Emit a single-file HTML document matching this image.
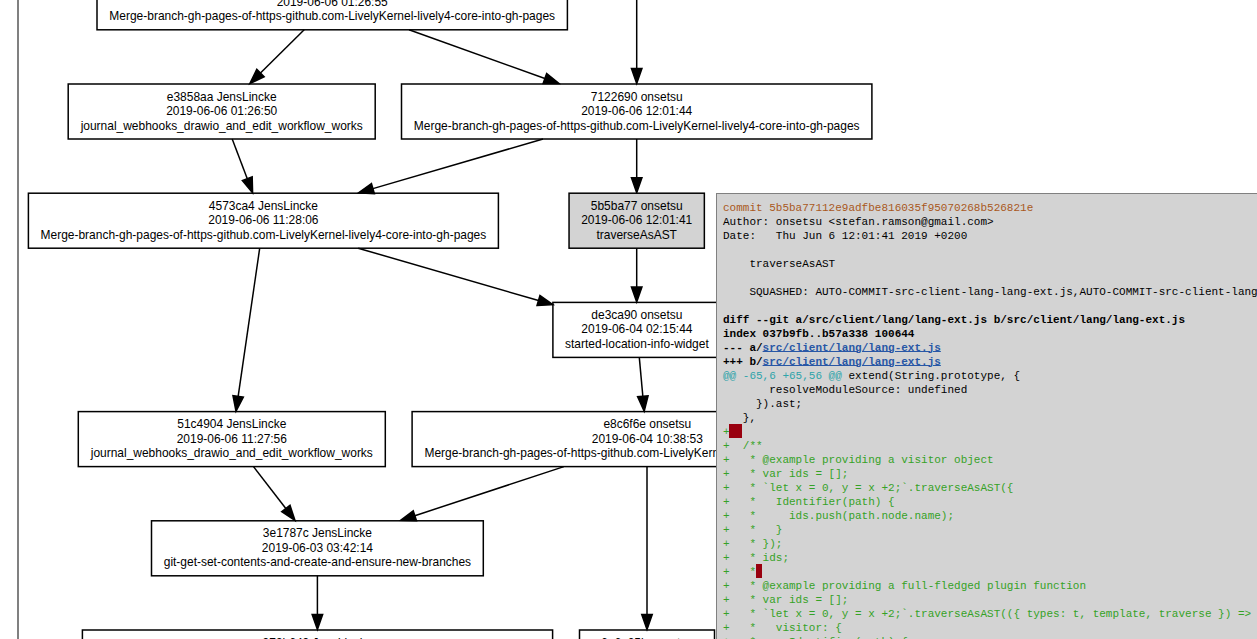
<!DOCTYPE html>
<html><head><meta charset="utf-8"><title>git graph</title>
<style>
html,body{margin:0;padding:0;background:#fff;}
body{width:1257px;height:639px;overflow:hidden;position:relative;font-family:"Liberation Sans",sans-serif;}
#edge{position:absolute;left:17px;top:0;width:2px;height:639px;background:#808080;}
svg text{font-family:"Liberation Sans",sans-serif;font-size:11.97px;fill:#000;}
#panel{position:absolute;left:716px;top:193px;width:600px;height:500px;box-sizing:border-box;border:1px solid #808080;background:#d3d3d3;padding:7px 6px 6px 6px;overflow:hidden;}
#panel pre{margin:0;font-family:"Liberation Mono",monospace;font-size:11px;line-height:14px;color:#000;white-space:pre;}
#panel b{font-weight:bold;}
.c{color:#a9581c;}
.l{color:#2857a6;text-decoration:underline;text-underline-offset:0px;text-decoration-thickness:1px;}
.h{color:#2ea4aa;}
.a{color:#35a226;}
.r{background:#99000f;display:inline-block;height:14px;vertical-align:top;position:relative;top:-1px;}
.r2{width:13px;margin-left:-0.6px;}
.r1{width:6.2px;margin-left:0px;}
</style></head><body>
<div id="edge"></div>
<svg width="1257" height="639" viewBox="0 0 1257 639" style="position:absolute;left:0;top:0">
<g fill="none" stroke="#000" stroke-width="1.5">
<path d="M304.20,29.80L260.47,73.05"/>
<polygon fill="#000" points="256.77,69.32 249.80,83.60 264.16,76.79"/>
<path d="M409.00,29.80L544.88,78.54"/>
<polygon fill="#000" points="543.11,83.48 559.00,83.60 546.65,73.59"/>
<path d="M636.70,-5.00L636.70,68.60"/>
<polygon fill="#000" points="631.45,68.60 636.70,83.60 641.95,68.60"/>
<path d="M232.20,139.00L247.28,178.77"/>
<polygon fill="#000" points="242.37,180.64 252.60,192.80 252.19,176.91"/>
<path d="M543.00,139.00L372.90,188.60"/>
<polygon fill="#000" points="371.43,183.56 358.50,192.80 374.37,193.64"/>
<path d="M636.70,139.00L636.70,177.80"/>
<polygon fill="#000" points="631.45,177.80 636.70,192.80 641.95,177.80"/>
<path d="M259.70,248.20L238.16,396.36"/>
<polygon fill="#000" points="232.96,395.60 236.00,411.20 243.35,397.11"/>
<path d="M358.20,248.20L538.49,300.52"/>
<polygon fill="#000" points="537.03,305.56 552.90,304.70 539.96,295.48"/>
<path d="M636.70,248.20L636.70,287.00"/>
<polygon fill="#000" points="631.45,287.00 636.70,302.00 641.95,287.00"/>
<path d="M639.30,357.40L642.84,396.26"/>
<polygon fill="#000" points="637.61,396.74 644.20,411.20 648.07,395.79"/>
<path d="M253.50,466.60L285.84,508.52"/>
<polygon fill="#000" points="281.68,511.73 295.00,520.40 290.00,505.32"/>
<path d="M563.90,466.60L414.85,515.71"/>
<polygon fill="#000" points="413.20,510.72 400.60,520.40 416.49,520.69"/>
<path d="M647.00,466.60L647.00,614.60"/>
<polygon fill="#000" points="641.75,614.60 647.00,629.60 652.25,614.60"/>
<path d="M317.40,575.80L317.40,614.60"/>
<polygon fill="#000" points="312.15,614.60 317.40,629.60 322.65,614.60"/>
</g>
<rect x="97.00" y="-25.20" width="470.40" height="55.0" fill="none" stroke="#000" stroke-width="1.5"/>
<text x="332.20" y="-9.00" text-anchor="middle">ab3f2c1 JensLincke</text>
<text x="332.20" y="6.00" text-anchor="middle">2019-06-06 01:26:55</text>
<text x="332.20" y="20.00" text-anchor="middle">Merge-branch-gh-pages-of-https-github.com-LivelyKernel-lively4-core-into-gh-pages</text>
<rect x="68.20" y="84.00" width="307.00" height="55.0" fill="none" stroke="#000" stroke-width="1.5"/>
<text x="221.70" y="101.00" text-anchor="middle">e3858aa JensLincke</text>
<text x="221.70" y="115.00" text-anchor="middle">2019-06-06 01:26:50</text>
<text x="221.70" y="130.00" text-anchor="middle">journal_webhooks_drawio_and_edit_workflow_works</text>
<rect x="401.50" y="84.00" width="470.40" height="55.0" fill="none" stroke="#000" stroke-width="1.5"/>
<text x="636.70" y="101.00" text-anchor="middle">7122690 onsetsu</text>
<text x="636.70" y="115.00" text-anchor="middle">2019-06-06 12:01:44</text>
<text x="636.70" y="130.00" text-anchor="middle">Merge-branch-gh-pages-of-https-github.com-LivelyKernel-lively4-core-into-gh-pages</text>
<rect x="28.40" y="193.20" width="470.00" height="55.0" fill="none" stroke="#000" stroke-width="1.5"/>
<text x="263.40" y="210.00" text-anchor="middle">4573ca4 JensLincke</text>
<text x="263.40" y="224.00" text-anchor="middle">2019-06-06 11:28:06</text>
<text x="263.40" y="239.00" text-anchor="middle">Merge-branch-gh-pages-of-https-github.com-LivelyKernel-lively4-core-into-gh-pages</text>
<rect x="569.05" y="193.20" width="135.30" height="55.0" fill="#d3d3d3" stroke="#000" stroke-width="1.5"/>
<text x="636.70" y="210.00" text-anchor="middle">5b5ba77 onsetsu</text>
<text x="636.70" y="224.00" text-anchor="middle">2019-06-06 12:01:41</text>
<text x="636.70" y="239.00" text-anchor="middle">traverseAsAST</text>
<rect x="552.90" y="302.40" width="168.00" height="55.0" fill="none" stroke="#000" stroke-width="1.5"/>
<text x="636.90" y="319.00" text-anchor="middle">de3ca90 onsetsu</text>
<text x="636.90" y="333.00" text-anchor="middle">2019-06-04 02:15:44</text>
<text x="636.90" y="348.00" text-anchor="middle">started-location-info-widget</text>
<rect x="78.30" y="411.60" width="307.00" height="55.0" fill="none" stroke="#000" stroke-width="1.5"/>
<text x="231.80" y="428.00" text-anchor="middle">51c4904 JensLincke</text>
<text x="231.80" y="443.00" text-anchor="middle">2019-06-06 11:27:56</text>
<text x="231.80" y="457.00" text-anchor="middle">journal_webhooks_drawio_and_edit_workflow_works</text>
<rect x="412.10" y="411.60" width="470.40" height="55.0" fill="none" stroke="#000" stroke-width="1.5"/>
<text x="647.30" y="428.00" text-anchor="middle">e8c6f6e onsetsu</text>
<text x="647.30" y="443.00" text-anchor="middle">2019-06-04 10:38:53</text>
<text x="647.30" y="457.00" text-anchor="middle">Merge-branch-gh-pages-of-https-github.com-LivelyKernel-lively4-core-into-gh-pages</text>
<rect x="151.50" y="520.80" width="331.80" height="55.0" fill="none" stroke="#000" stroke-width="1.5"/>
<text x="317.40" y="537.00" text-anchor="middle">3e1787c JensLincke</text>
<text x="317.40" y="552.00" text-anchor="middle">2019-06-03 03:42:14</text>
<text x="317.40" y="566.00" text-anchor="middle">git-get-set-contents-and-create-and-ensure-new-branches</text>
<rect x="82.40" y="630.00" width="470.20" height="55.0" fill="none" stroke="#000" stroke-width="1.5"/>
<text x="317.50" y="647.00" text-anchor="middle">979b649 JensLincke</text>
<text x="317.50" y="661.00" text-anchor="middle">2019-06-03 03:40:02</text>
<text x="317.50" y="676.00" text-anchor="middle">Merge-branch-gh-pages-of-https-github.com-LivelyKernel-lively4-core-into-gh-pages</text>
<rect x="579.50" y="630.00" width="135.00" height="55.0" fill="none" stroke="#000" stroke-width="1.5"/>
<text x="647.00" y="647.00" text-anchor="middle">6e6e25b onsetsu</text>
<text x="647.00" y="661.00" text-anchor="middle">2019-06-03 10:21:07</text>
<text x="647.00" y="676.00" text-anchor="middle">AUTO-COMMIT</text>
</svg>
<div id="panel"><pre><span class="c">commit 5b5ba77112e9adfbe816035f95070268b526821e</span>
Author: onsetsu &lt;stefan.ramson@gmail.com&gt;
Date:   Thu Jun 6 12:01:41 2019 +0200

    traverseAsAST

    SQUASHED: AUTO-COMMIT-src-client-lang-lang-ext.js,AUTO-COMMIT-src-client-lang-lang-ext.js,AUTO-COMMIT-src-client-lang-lang-ext.js,AUTO-COMMIT-src-client-lang-lang-ext.js

<b>diff --git a/src/client/lang/lang-ext.js b/src/client/lang/lang-ext.js</b>
<b>index 037b9fb..b57a338 100644</b>
<b>--- a/<span class="l">src/client/lang/lang-ext.js</span></b>
<b>+++ b/<span class="l">src/client/lang/lang-ext.js</span></b>
<span class="h">@@ -65,6 +65,56 @@</span> extend(String.prototype, {
       resolveModuleSource: undefined
     }).ast;
   },
<span class="a">+<span class="r r2"></span></span>
<span class="a">+  /**</span>
<span class="a">+   * @example providing a visitor object</span>
<span class="a">+   * var ids = [];</span>
<span class="a">+   * `let x = 0, y = x +2;`.traverseAsAST({</span>
<span class="a">+   *   Identifier(path) {</span>
<span class="a">+   *     ids.push(path.node.name);</span>
<span class="a">+   *   }</span>
<span class="a">+   * });</span>
<span class="a">+   * ids;</span>
<span class="a">+   *<span class="r r1"></span></span>
<span class="a">+   * @example providing a full-fledged plugin function</span>
<span class="a">+   * var ids = [];</span>
<span class="a">+   * `let x = 0, y = x +2;`.traverseAsAST(({ types: t, template, traverse }) =&gt; ({</span>
<span class="a">+   *   visitor: {</span>
<span class="a">+   *     Identifier(path) {</span>
<span class="a">+   *       ids.push(path.node.name);</span></pre></div>
</body></html>
